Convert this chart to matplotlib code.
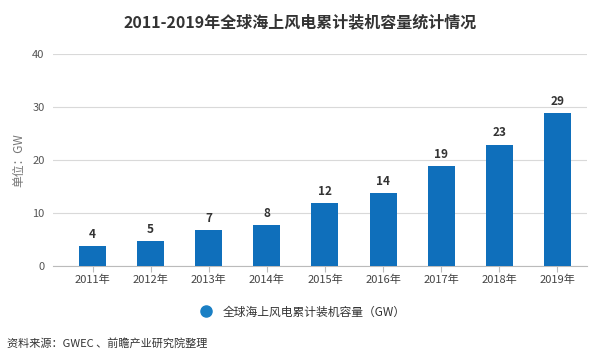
import matplotlib.pyplot as plt
from matplotlib.lines import Line2D

plt.rcParams['font.family'] = ['Noto Sans CJK SC', 'DejaVu Sans']

YEARS = ['2011年', '2012年', '2013年', '2014年', '2015年', '2016年', '2017年', '2018年', '2019年']
CAPACITY = [3.8, 4.7, 6.8, 7.7, 11.9, 13.8, 18.9, 22.9, 28.9]
LABELS = ['4', '5', '7', '8', '12', '14', '19', '23', '29']
BAR_COLOR = '#0f6fbb'


def main():
    fig = plt.figure(figsize=(6, 3.64), dpi=100)
    ax = fig.add_axes([53 / 600, 1 - 266 / 364, 534 / 600, 212 / 364])

    x = range(len(YEARS))
    bars = ax.bar(x, CAPACITY, width=0.465, color=BAR_COLOR, zorder=3)
    for b, lab in zip(bars, LABELS):
        ax.text(b.get_x() + b.get_width() / 2, b.get_height() + 1.0, lab,
                ha='center', va='bottom', fontsize=8.5, fontweight='bold', color='#333333')

    ax.set_xlim(-0.68, 8.51)
    ax.set_ylim(0, 40)
    ax.set_yticks([0, 10, 20, 30, 40])
    ax.set_xticks(list(x))
    ax.set_xticklabels(YEARS)
    ax.grid(axis='y', color='#d9d9d9', linewidth=0.8, zorder=0)
    for s in ['top', 'right', 'left']:
        ax.spines[s].set_visible(False)
    ax.spines['bottom'].set_color('#bbbbbb')
    ax.tick_params(axis='y', length=0, labelsize=8, labelcolor='#555555', pad=6)
    ax.tick_params(axis='x', length=4, color='#bbbbbb', labelsize=8, labelcolor='#444444', pad=2)
    ax.set_ylabel('单位：GW', fontsize=8.5, color='#777777', labelpad=5)

    fig.text(0.5, 1 - 22 / 364, '2011-2019年全球海上风电累计装机容量统计情况',
             ha='center', va='center', fontsize=11.5, fontweight='bold', color='#333333')

    handle = Line2D([], [], marker='o', linestyle='', markersize=8,
                    color='#1a7fc4')
    fig.legend([handle], ['全球海上风电累计装机容量（GW）'], loc='center',
               bbox_to_anchor=(0.5, 1 - 312 / 364), frameon=False,
               fontsize=8.5, handletextpad=0.4, labelcolor='#333333')

    fig.text(7 / 600, 1 - 343 / 364, '资料来源：GWEC 、前瞻产业研究院整理',
             ha='left', va='center', fontsize=8, color='#333333')

    fig.savefig('out.png', dpi=100)


if __name__ == '__main__':
    main()
